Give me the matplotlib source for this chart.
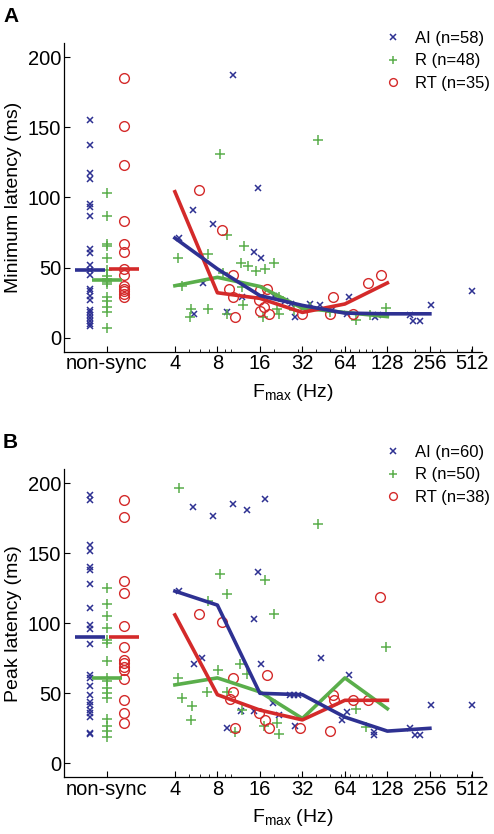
import numpy as np
import matplotlib
matplotlib.use('Agg')
import matplotlib.pyplot as plt
from matplotlib.ticker import FixedLocator, NullFormatter

plt.rcParams['font.family'] = ['Liberation Sans', 'DejaVu Sans']
plt.rcParams['mathtext.default'] = 'regular'

BLUE = '#2E3192'
GREEN = '#5AAE4B'
RED = '#D42A2A'

# ---------------- Panel A: minimum latency ----------------
a_ai_ns = [155, 137, 117, 113, 95, 93, 87, 63, 60, 52, 48, 45, 35, 33, 30, 27, 20, 18, 16, 14, 12, 10, 8]
a_r_ns = [103, 87, 67, 65, 57, 48, 44, 42, 40, 38, 29, 26, 22, 18, 7]
a_rt_ns = [185, 151, 123, 83, 67, 61, 49, 45, 37, 35, 33, 31, 29]
a_ns_center = [48, 41, 49]  # AI, R, RT

a_ai_f = [4.3, 5.4, 7.4, 6.3, 5.5, 9.3, 10.3, 15.4, 14.6, 16.2, 11.9, 28.3, 42.5, 26.5, 68, 66, 104, 185, 195, 217, 260, 512, 20, 24, 36, 52, 110]
a_ai_v = [71, 91, 81, 39, 17, 18, 187, 107, 61, 57, 29, 15, 23, 24, 29, 17, 15, 16, 12, 12, 23, 33, 30, 26, 24, 20, 16]
a_r_f = [8.3, 41, 4.2, 6.9, 9.4, 12.3, 11.7, 13.1, 15.1, 17.4, 20.1, 4.5, 11.9, 5.2, 5.1, 6.9, 9.3, 12.2, 16.7, 22, 22, 21, 8.8, 77, 96, 126, 50, 28, 36]
a_r_v = [131, 141, 57, 59.5, 73, 65, 53, 51, 47.6, 49, 53, 37, 36, 20.7, 15, 20.7, 17, 23, 14.7, 17, 29, 20.7, 46, 12.4, 16, 21.4, 18, 20, 22]
a_rt_f = [5.9, 8.6, 10.3, 9.7, 10.3, 10.6, 16, 18, 15.8, 16, 18.6, 31.6, 50, 53, 73, 94, 115, 17]
a_rt_v = [105, 77, 45, 35, 29, 15, 34, 35, 26.6, 19, 17, 17, 17, 29, 17, 39, 45, 22]

line_f = [4, 8, 16, 32, 64, 128, 256]
a_ai_line = [71, 49, 30, 23, 17.5, 17, 17]
a_r_line = [37, 43, 36.5, 21, 18, 15]
a_rt_line = [104, 32, 28, 18, 24, 39]
a_labels = ['AI (n=58)', 'R (n=48)', 'RT (n=35)']

# ---------------- Panel B: peak latency ----------------
b_ai_ns = [192, 188, 156, 152, 140, 138, 128, 111, 99, 96, 85, 63, 61, 55, 49, 44, 42, 38, 36, 33, 22, 21]
b_r_ns = [125, 114, 105, 97, 88, 86, 73, 61, 59, 54, 50, 47, 32, 27, 23, 19]
b_rt_ns = [188, 176, 130, 122, 98, 83, 74, 72, 69, 67, 60, 45, 36, 29]
b_ns_center = [90.5, 61, 90.5]

b_ai_f = [4.3, 5.4, 7.4, 10.3, 12.9, 17.4, 15.4, 14.5, 5.5, 6.2, 16.2, 43.4, 68, 19.7, 11.7, 14.5, 22, 28.3, 9.4, 60.6, 66, 103, 103, 185, 200, 218, 260, 512, 26, 28, 30]
b_ai_v = [123, 183, 177, 185, 181, 189, 137, 103, 71, 75, 71, 75, 63, 43, 37.4, 37.4, 34.5, 26.6, 25, 31, 37, 22.6, 20, 25, 20, 20, 42, 42, 49, 49, 49]
b_r_f = [4.3, 8.3, 9.4, 41, 17.4, 20.2, 11.6, 8.1, 6.7, 4.5, 5.3, 5.2, 9.3, 11.9, 17, 21.8, 21, 10.6, 77, 91, 126, 13, 4.2, 6.9]
b_r_v = [197, 135, 121, 171, 131, 107, 71, 67, 51, 47, 41, 31, 51, 38, 27, 21, 28.6, 22.6, 39, 26, 83, 64, 61, 116]
b_rt_f = [5.9, 8.6, 10.4, 10.3, 9.8, 17.9, 15.8, 17.4, 18.6, 10.6, 31, 50.5, 53, 53.5, 73, 94, 113]
b_rt_v = [107, 101, 61, 51, 46, 63, 36, 31, 25, 25, 25, 23, 49, 45, 45, 45, 119]

b_ai_line = [123, 113, 50, 49, 33, 23, 25]
b_r_line = [56, 61, 51, 32, 61, 39]
b_rt_line = [106, 49, 38, 31, 45, 45]
b_labels = ['AI (n=60)', 'R (n=50)', 'RT (n=38)']

xtick_f = [4, 8, 16, 32, 64, 128, 256, 512]
minor_f = [5, 6, 7, 9, 10, 20, 30, 40, 50, 60, 70, 80, 90, 100, 200, 300, 400, 500]

# positions (log2 units) of the non-sync columns
ns_pos = [0.0, 0.4, 0.8]
ns_half = 0.35

W, H = 494, 834
fig = plt.figure(figsize=(W / 100, H / 100), dpi=100)


def panel(ax, ns, ns_c, sync, lines, labels, ylabel):
    styles = [dict(marker='x', ms=5, mew=1.1, color=BLUE),
              dict(marker='+', ms=7, mew=1.1, color=GREEN),
              dict(marker='o', ms=7, mew=1.0, color=RED, mfc='none')]
    handles = []
    for i in range(3):
        xs = np.full(len(ns[i]), 2.0 ** ns_pos[i])
        ax.plot(xs, ns[i], ls='none', **styles[i])
        h, = ax.plot(sync[i][0], sync[i][1], ls='none', label=labels[i], **styles[i])
        handles.append(h)
    cols = [BLUE, GREEN, RED]
    for i in (1, 2, 0):
        ax.plot([2.0 ** (ns_pos[i] - ns_half), 2.0 ** (ns_pos[i] + ns_half)], [ns_c[i], ns_c[i]],
                color=cols[i], lw=2.6, solid_capstyle='butt')
    for i in (1, 2, 0):
        ax.plot(line_f[:len(lines[i])], lines[i], color=cols[i], lw=2.6)
    ax.set_xscale('log', base=2)
    ax.set_xlim(2 ** -0.61, 2 ** 9.22)
    ax.set_ylim(-10, 210)
    ax.set_yticks([0, 50, 100, 150, 200])
    ax.xaxis.set_major_locator(FixedLocator([2 ** ns_pos[1]] + xtick_f))
    ax.set_xticklabels(['non-sync'] + [str(f) for f in xtick_f])
    ax.xaxis.set_minor_locator(FixedLocator(minor_f))
    ax.xaxis.set_minor_formatter(NullFormatter())
    for s in ('top', 'right'):
        ax.spines[s].set_visible(False)
    for s in ('left', 'bottom'):
        ax.spines[s].set_linewidth(0.9)
    ax.tick_params(which='major', direction='in', length=4, width=0.8, labelsize=14.5, pad=2)
    ax.tick_params(which='minor', direction='in', length=2, width=0.6)
    ax.set_ylabel(ylabel, fontsize=14)
    ax.yaxis.set_label_coords(-0.10, 0.5)
    ax.set_xlabel('$F_{max}$ (Hz)', fontsize=14)
    ax.xaxis.label.set_va('center')
    ax.xaxis.set_label_coords(0.547, -0.132)
    return handles


def legend(ax, handles, top_px):
    ax.legend(handles=handles, loc='upper left', bbox_to_anchor=(385.5 / W, 1 - top_px / H),
              bbox_transform=fig.transFigure, frameon=False, fontsize=12,
              handlelength=0.9, handletextpad=0.87, labelspacing=0.44, markerscale=0.8,
              borderpad=0, borderaxespad=0)


axA = fig.add_axes([64 / W, 1 - 351.7 / H, 417.7 / W, 308.7 / H])
hA = panel(axA, [a_ai_ns, a_r_ns, a_rt_ns], a_ns_center,
           [(a_ai_f, a_ai_v), (a_r_f, a_r_v), (a_rt_f, a_rt_v)],
           [a_ai_line, a_r_line, a_rt_line], a_labels, 'Minimum latency (ms)')
legend(axA, hA, 31)

axB = fig.add_axes([64 / W, 1 - 777.3 / H, 417.7 / W, 308 / H])
hB = panel(axB, [b_ai_ns, b_r_ns, b_rt_ns], b_ns_center,
           [(b_ai_f, b_ai_v), (b_r_f, b_r_v), (b_rt_f, b_rt_v)],
           [b_ai_line, b_r_line, b_rt_line], b_labels, 'Peak latency (ms)')
legend(axB, hB, 445)

fig.text(3 / W, 1 - 22 / H, 'A', fontsize=15, fontweight='bold', va='baseline')
fig.text(3 / W, 1 - 448 / H, 'B', fontsize=15, fontweight='bold', va='baseline')

fig.savefig('out.png', dpi=100)
